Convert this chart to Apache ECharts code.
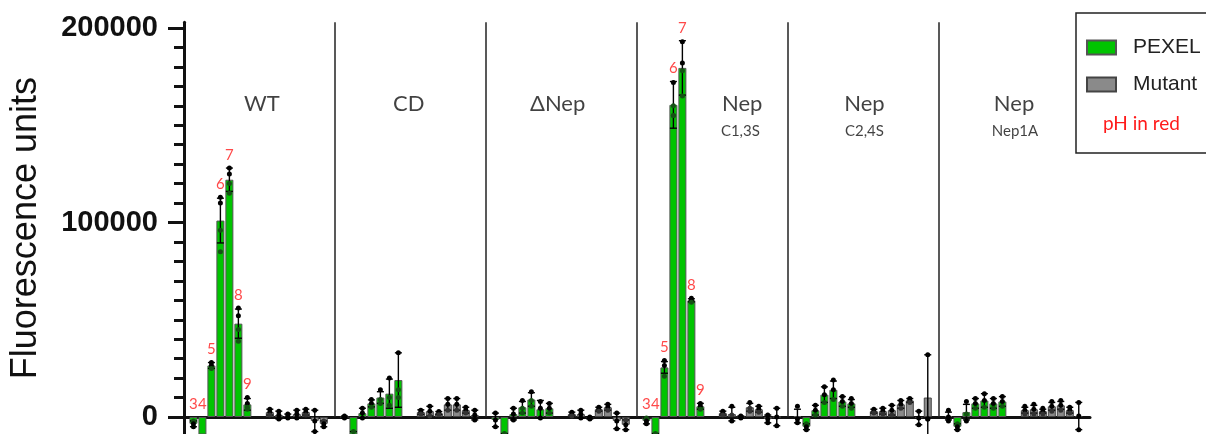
<!DOCTYPE html>
<html>
<head>
<meta charset="utf-8">
<script src="https://cdn.jsdelivr.net/npm/echarts@6/dist/echarts.min.js"></script>
<style>html,body{margin:0;padding:0;background:#fff}#c{width:1206px;height:434px}</style>
</head>
<body>
<div id="c"></div>
<script>
// ---------------- DATA ----------------
const panelNames = ['WT', 'CD', 'ΔNep', 'Nep', 'Nep', 'Nep'];
const panelSubs = ['', '', '', 'C1,3S', 'C2,4S', 'Nep1A'];
const phValues = ['3', '4', '5', '6', '7', '8', '9'];
const labelledPanels = [0, 3];
const yTickLabels = [0, 100000, 200000];

const wtPexel = [-3500, -12000, 26500, 101000, 122000, 48000, 6500];
const wtPexelSD = [1500, 2000, 1500, 11500, 6000, 7500, 3000];
const wtPexelPts = [[-2000, -3500, -5000], [-10000, -12000, -14000], [28000, 26500, 25000], [113000, 110000, 96000, 85000], [128000, 125000, 120000, 115000], [56000, 52000, 45000, 39000], [10000, 7000, 5000, 4000]];
const wtMutant = [2500, 1000, 500, 1500, 2500, -2000, -3500];
const wtMutantSD = [1500, 2000, 1000, 2000, 1500, 5500, 1500];
const wtMutantPts = [[4000, 2500, 1000], [3000, 1000, -1000], [1500, 500, -500], [3500, 1500, -500], [4000, 2500, 1000], [3500, -2000, -7500], [-2000, -3500, -5000]];

const cdPexel = [0, -9000, 2000, 7000, 10000, 12000, 19000];
const cdPexelSD = [500, 1500, 2500, 1800, 3000, 7500, 14000];
const cdPexelPts = [[500, 0, -500], [-7500, -9000, -10500], [4500, 2000, -500], [9000, 7000, 5000], [14000, 9000, 7000], [20000, 10000, 6000], [33000, 14000, 10000]];
const cdMutant = [2500, 3000, 2000, 6500, 6500, 3500, 1000];
const cdMutantSD = [1200, 2500, 800, 3000, 3000, 1500, 2500];
const cdMutantPts = [[3500, 2500, 1500], [5500, 3000, 500], [2800, 2000, 1200], [9500, 6500, 3500], [9500, 6500, 3500], [5000, 3500, 2000], [3500, 1000, -1500]];

const dnPexel = [-1500, -10000, 1500, 5000, 9000, 4000, 4500];
const dnPexelSD = [3500, 1500, 3000, 3000, 3500, 4500, 2500];
const dnPexelPts = [[2000, -1500, -5000], [-8500, -10000, -11500], [4500, 1500, -1500], [8500, 4500, 2000], [13000, 8500, 5500], [8000, 4500, -500], [7000, 4500, 2000]];
const dnMutant = [1500, 1500, -500, 4000, 5000, -2000, -4000];
const dnMutantSD = [1000, 2000, 500, 1000, 1500, 4000, 2500];
const dnMutantPts = [[2500, 1500, 500], [3500, 1500, -500], [0, -500, -1000], [5000, 4000, 3000], [6500, 5000, 3500], [2000, -2000, -6000], [-1500, -4000, -6500]];

const c13Pexel = [-2000, -10000, 25500, 160500, 179500, 60000, 5500];
const c13PexelSD = [1500, 1500, 3000, 12000, 14000, 800, 1500];
const c13PexelPts = [[-500, -2000, -3500], [-8500, -10000, -11500], [29000, 26500, 21000], [172000, 160000, 155000, 155000], [193000, 182000, 178000, 165000], [61000, 60000, 59000], [7000, 5500, 4000]];
const c13Mutant = [2000, 1500, 0, 5000, 4000, -1000, 0];
const c13MutantSD = [1000, 3500, 500, 2000, 1500, 2000, 4500];
const c13MutantPts = [[3000, 2000, 1000], [5500, 1000, -2000], [500, 0, -500], [7500, 4500, 3000], [5500, 4000, 2500], [1000, -1000, -3000], [4500, 0, -4500]];

const c24Pexel = [500, -5000, 3500, 11500, 14000, 8000, 7000];
const c24PexelSD = [3500, 1500, 2500, 4000, 4500, 2500, 2000];
const c24PexelPts = [[5500, -1000, -3000], [-3500, -5000, -6500], [6000, 3500, 1000], [15500, 11500, 7500], [19000, 14000, 9000], [10500, 8000, 5500], [9500, 7000, 4500]];
const c24Mutant = [3000, 3000, 3500, 6500, 8500, -500, 10000];
const c24MutantSD = [1000, 1500, 2500, 2000, 1000, 3500, 22000];
const c24MutantPts = [[4000, 3000, 2000], [4500, 3000, 1500], [6000, 3500, 1000], [8500, 6500, 4500], [9500, 8500, 7500], [3000, -500, -4000], [32000, -1000, -1000]];

const n1aPexel = [500, -5000, 2500, 7000, 8500, 7000, 8000];
const n1aPexelSD = [2000, 1500, 4000, 2500, 3500, 2500, 2500];
const n1aPexelPts = [[3500, 0, -2000], [-3500, -5000, -6500], [8000, 1500, -2000], [9500, 7000, 4500], [12000, 8500, 5000], [9500, 7000, 4500], [10500, 8000, 5500]];
const n1aMutant = [3500, 4000, 3000, 5500, 6000, 3500, 500];
const n1aMutantSD = [1500, 2000, 1000, 2000, 2000, 1500, 7000];
const n1aMutantPts = [[5500, 3500, 1500], [6500, 4000, 1500], [4500, 3000, 1500], [8000, 5500, 3000], [8500, 6000, 3500], [5000, 3500, 2000], [7500, 500, -6500]];

// ---------------- LAYOUT ----------------
const PANEL_W = 16.8;          // x-units per panel
const PEX_START = 1.05;        // first PEXEL bar inside a panel
const MUT_START = 9.55;        // first Mutant bar inside a panel
const TITLE_OFF = [8.67, 8.2, 7.97, 11.7, 8.5, 8.35];
const SUB_OFF = [0, 0, 0, 11.5, 8.5, 8.45];
const TITLE_Y = 161000, SUB_Y = 147000, SEP_TOP = 203000;

const groups = [
  [wtPexel, wtPexelSD, wtPexelPts, wtMutant, wtMutantSD, wtMutantPts],
  [cdPexel, cdPexelSD, cdPexelPts, cdMutant, cdMutantSD, cdMutantPts],
  [dnPexel, dnPexelSD, dnPexelPts, dnMutant, dnMutantSD, dnMutantPts],
  [c13Pexel, c13PexelSD, c13PexelPts, c13Mutant, c13MutantSD, c13MutantPts],
  [c24Pexel, c24PexelSD, c24PexelPts, c24Mutant, c24MutantSD, c24MutantPts],
  [n1aPexel, n1aPexelSD, n1aPexelPts, n1aMutant, n1aMutantSD, n1aMutantPts]
];

const pexBars = [], mutBars = [], errs = [], pts = [], phLabels = [], titles = [], seps = [];
groups.forEach((g, p) => {
  const [pm, ps, pp, mm, ms, mp] = g;
  phValues.forEach((ph, i) => {
    const xp = p * PANEL_W + PEX_START + i;
    const xm = p * PANEL_W + MUT_START + i;
    pexBars.push([xp, pm[i]]);
    mutBars.push([xm, mm[i]]);
    errs.push([xp, pm[i], ps[i]]);
    errs.push([xm, mm[i], ms[i]]);
    pp[i].forEach(v => pts.push([xp, v, (v * pm[i] > 0 && Math.abs(v) < Math.abs(pm[i])) ? 1 : 0]));
    mp[i].forEach(v => pts.push([xm, v, (v * mm[i] > 0 && Math.abs(v) < Math.abs(mm[i])) ? 2 : 0]));
    if (labelledPanels.includes(p)) {
      const top = pm[i] < 0 ? 0 : Math.max(pm[i] + ps[i], ...pp[i]);
      phLabels.push([xp, top, ph]);
    }
  });
  titles.push({ value: [p * PANEL_W + TITLE_OFF[p], TITLE_Y, panelNames[p]], label: { fontSize: 22 } });
  if (panelSubs[p]) titles.push({ value: [p * PANEL_W + SUB_OFF[p], SUB_Y, panelSubs[p]], label: { fontSize: 15 } });
  if (p > 0) seps.push([{ coord: [p * PANEL_W, 0] }, { coord: [p * PANEL_W, SEP_TOP] }]);
});

const minorTicks = [];
for (let v = 10000; v < 200000; v += 10000) if (v !== 100000) minorTicks.push(v);

// ---------------- CHART ----------------
const chart = echarts.init(document.getElementById('c'), null, { renderer: 'canvas' });
chart.setOption({
  animation: false,
  backgroundColor: '#fff',
  grid: { left: 183, right: 116, top: 22.2, bottom: 0, containLabel: false },
  legend: {
    data: ['PEXEL', 'Mutant'],
    orient: 'vertical', left: 1076, top: 13,
    padding: [24, 30, 58, 10], itemGap: 16,
    itemWidth: 29, itemHeight: 14, icon: 'rect',
    borderColor: '#222', borderWidth: 1.5,
    textStyle: { fontSize: 21, fontFamily: 'Liberation Sans', color: '#222', padding: [0, 0, 0, 12] }
  },
  graphic: [{
    type: 'text', left: 1103, top: 114,
    style: { text: 'pH in red', font: '19px Lato', fill: '#ff1a1a' }
  }],
  xAxis: {
    type: 'value', min: 0, max: PANEL_W * 6,
    axisLine: { show: true, onZero: true, lineStyle: { color: '#111', width: 3 } },
    axisTick: { show: false }, axisLabel: { show: false }, splitLine: { show: false }
  },
  yAxis: [{
    type: 'value', min: -8740, max: SEP_TOP, position: 'left',
    name: 'Fluorescence units', nameLocation: 'middle', nameGap: 140,
    nameTextStyle: { fontSize: 36, fontFamily: 'Liberation Sans', color: '#111' },
    axisLine: { show: true, lineStyle: { color: '#111', width: 3 } },
    axisTick: { show: true, customValues: yTickLabels, length: 16, lineStyle: { color: '#111', width: 3 } },
    axisLabel: { customValues: yTickLabels, formatter: v => String(v), fontSize: 29, fontWeight: 'bold', fontFamily: 'Liberation Sans', color: '#111', margin: 26 },
    splitLine: { show: false }
  }, {
    type: 'value', min: -8740, max: SEP_TOP, position: 'left',
    axisLine: { show: false },
    axisTick: { show: true, customValues: minorTicks, length: 10, lineStyle: { color: '#111', width: 3 } },
    axisLabel: { show: false }, splitLine: { show: false }
  }],
  series: [
    {
      name: 'PEXEL', type: 'bar', data: pexBars, barWidth: 8, barGap: '-100%', z: 2,
      itemStyle: { color: '#00c400', borderColor: '#555', borderWidth: 1 },
      markLine: {
        silent: true, symbol: 'none', label: { show: false },
        lineStyle: { color: '#222', width: 1.5, type: 'solid' }, data: seps
      }
    },
    {
      name: 'Mutant', type: 'bar', data: mutBars, barWidth: 8, barGap: '-100%', z: 2,
      itemStyle: { color: '#8a8a8a', borderColor: '#444', borderWidth: 1 }
    },
    {
      type: 'custom', data: errs, z: 3, silent: true,
      renderItem: (params, api) => {
        const x = api.value(0), m = api.value(1), s = api.value(2);
        const t = api.coord([x, m + s]), b = api.coord([x, m - s]);
        const st = { stroke: '#000', lineWidth: 1.4 };
        return {
          type: 'group', children: [
            { type: 'line', shape: { x1: t[0], y1: t[1], x2: b[0], y2: b[1] }, style: st },
            { type: 'line', shape: { x1: t[0] - 3.5, y1: t[1], x2: t[0] + 3.5, y2: t[1] }, style: st },
            { type: 'line', shape: { x1: b[0] - 3.5, y1: b[1], x2: b[0] + 3.5, y2: b[1] }, style: st }
          ]
        };
      }
    },
    {
      type: 'scatter', data: pts, symbolSize: 5, z: 4, silent: true,
      itemStyle: { color: p => p.value[2] === 1 ? '#145214' : (p.value[2] === 2 ? '#333' : '#000'), opacity: 1 }
    },
    {
      type: 'scatter', data: phLabels, symbolSize: 1, z: 5, silent: true,
      itemStyle: { color: 'rgba(0,0,0,0)' },
      label: {
        show: true, position: 'top', distance: 5, formatter: p => p.value[2],
        fontSize: 15, fontFamily: 'Lato', color: '#ff1a1a'
      }
    },
    {
      type: 'scatter', data: titles, symbolSize: 1, z: 5, silent: true,
      itemStyle: { color: 'rgba(0,0,0,0)' },
      label: {
        show: true, position: 'inside', formatter: p => p.value[2],
        fontFamily: 'Lato', color: '#111'
      }
    }
  ]
});
</script>
</body>
</html>
